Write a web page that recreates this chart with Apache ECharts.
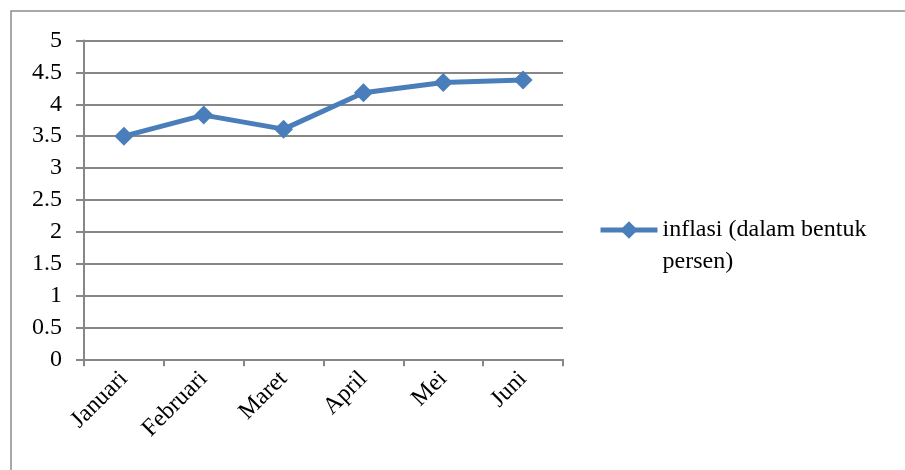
<!DOCTYPE html>
<html>
<head>
<meta charset="utf-8">
<script src="https://cdn.jsdelivr.net/npm/echarts@6/dist/echarts.min.js"></script>
<style>
html,body{margin:0;padding:0;background:#fff;}
#c{width:905px;height:470px;}
</style>
</head>
<body>
<div id="c"></div>
<script>
const categories = ['Januari', 'Februari', 'Maret', 'April', 'Mei', 'Juni'];
const inflasi = [3.5, 3.83, 3.61, 4.18, 4.34, 4.38];
const seriesName = 'inflasi (dalam bentuk persen)';
const yTicks = { min: 0, max: 5, interval: 0.5 };

const chart = echarts.init(document.getElementById('c'), null, { renderer: 'canvas' });
const font = '"Liberation Serif", "Times New Roman", serif';
const gray = '#878787';
const blue = '#4A7EBB';

chart.setOption({
  animation: false,
  backgroundColor: '#fff',
  textStyle: { fontFamily: font },
  graphic: [{
    type: 'rect',
    shape: { x: 11, y: 11, width: 960, height: 520 },
    style: { fill: 'none', stroke: '#8c8c8c', lineWidth: 1.5 },
    silent: true
  }],
  grid: { left: 84, right: 342, top: 40.5, bottom: 110.7, containLabel: false },
  legend: {
    left: 593,
    top: 177,
    itemWidth: 57,
    itemHeight: 22,
    itemGap: 2,
    data: [seriesName],
    formatter: () => ' \ninflasi (dalam bentuk\npersen)',
    lineStyle: { width: 5, color: blue },
    itemStyle: { color: blue },
    textStyle: {
      fontFamily: font, fontSize: 24, color: '#000', lineHeight: 32
    }
  },
  xAxis: {
    type: 'category',
    data: categories,
    boundaryGap: true,
    axisLine: { lineStyle: { color: gray, width: 2 } },
    axisTick: { show: true, length: 7, inside: false, lineStyle: { color: gray, width: 2 } },
    axisLabel: {
      rotate: 45, margin: 16, interval: 0,
      fontFamily: font, fontSize: 24, color: '#000'
    },
    splitLine: { show: false }
  },
  yAxis: {
    type: 'value',
    min: yTicks.min, max: yTicks.max, interval: yTicks.interval,
    axisLine: { show: true, lineStyle: { color: gray, width: 2 } },
    axisTick: { show: true, length: 8, lineStyle: { color: gray, width: 2 } },
    axisLabel: {
      margin: 22, fontFamily: font, fontSize: 24, color: '#000',
      formatter: v => String(v)
    },
    splitLine: { show: true, lineStyle: { color: gray, width: 2 } }
  },
  series: [{
    name: seriesName,
    type: 'line',
    data: inflasi,
    symbol: 'diamond',
    symbolSize: 19,
    showAllSymbol: true,
    lineStyle: { color: blue, width: 5 },
    itemStyle: { color: blue }
  }]
});
</script>
</body>
</html>
